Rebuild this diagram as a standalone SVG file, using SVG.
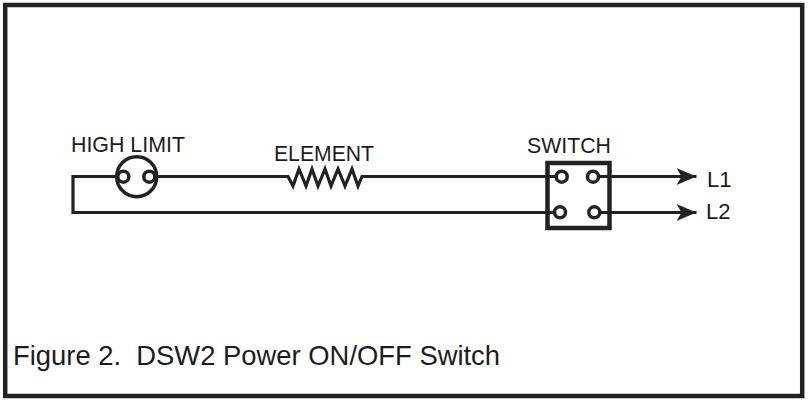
<svg xmlns="http://www.w3.org/2000/svg" width="808" height="402" viewBox="0 0 808 402">
<style>
text{font-family:"Liberation Sans",Arial,sans-serif;fill:#1c1c20}
.l{font-size:22px}
.w{fill:none;stroke:#222;stroke-width:3.200}
.t{fill:#fff;stroke:#222;stroke-width:3.500}
</style>
<defs><marker id="a" markerUnits="userSpaceOnUse" markerWidth="22" markerHeight="18" refX="20" refY="8.500" orient="auto"><path d="M0 0L20 8.500L0 17L5 8.500Z" fill="#222"/></marker></defs>
<rect width="808" height="402" fill="#fff"/>
<rect id="frame" x="5.200" y="5" width="797" height="391" fill="none" stroke="#222" stroke-width="4.500"/>
<g id="connectors">
<path class="w" d="M116 176.500H73V212.500H560"/>
<path class="w" d="M158 176.500H288L293 186L299 169L306 186L312 169L318 186L325 169L331 186L338 169L345 186L352 169L358 186L362 176.500H562"/>
<path class="w" d="M594 176.500H696.500" marker-end="url(#a)"/>
<path class="w" d="M596 212.500H696.500" marker-end="url(#a)"/>
</g>
<g id="high-limit">
<circle cx="136.700" cy="176.700" r="20" fill="#fff" stroke="#222" stroke-width="3.500"/>
<circle class="t" cx="123.300" cy="176.700" r="5.500"/><circle class="t" cx="149.300" cy="176.700" r="5.500"/>
<text class="l" x="71" y="152" textLength="114" lengthAdjust="spacingAndGlyphs">HIGH LIMIT</text>
</g>
<g id="element"><text class="l" x="274" y="161" textLength="100" lengthAdjust="spacingAndGlyphs">ELEMENT</text></g>
<g id="switch">
<rect x="547.500" y="163" width="62" height="65" fill="none" stroke="#222" stroke-width="4.500"/>
<circle class="t" cx="561.700" cy="176.700" r="5.500"/><circle class="t" cx="593" cy="176.700" r="5.500"/>
<circle class="t" cx="560" cy="212.300" r="5.500"/><circle class="t" cx="594.300" cy="212.300" r="5.500"/>
<text class="l" x="527" y="153" textLength="84" lengthAdjust="spacingAndGlyphs">SWITCH</text>
</g>
<g id="l1"><text class="l" x="707" y="187">L1</text></g>
<g id="l2"><text class="l" x="706" y="219">L2</text></g>
<text x="13" y="365" font-size="27.400" xml:space="preserve">Figure 2.  DSW2 Power ON/OFF Switch</text>
</svg>
